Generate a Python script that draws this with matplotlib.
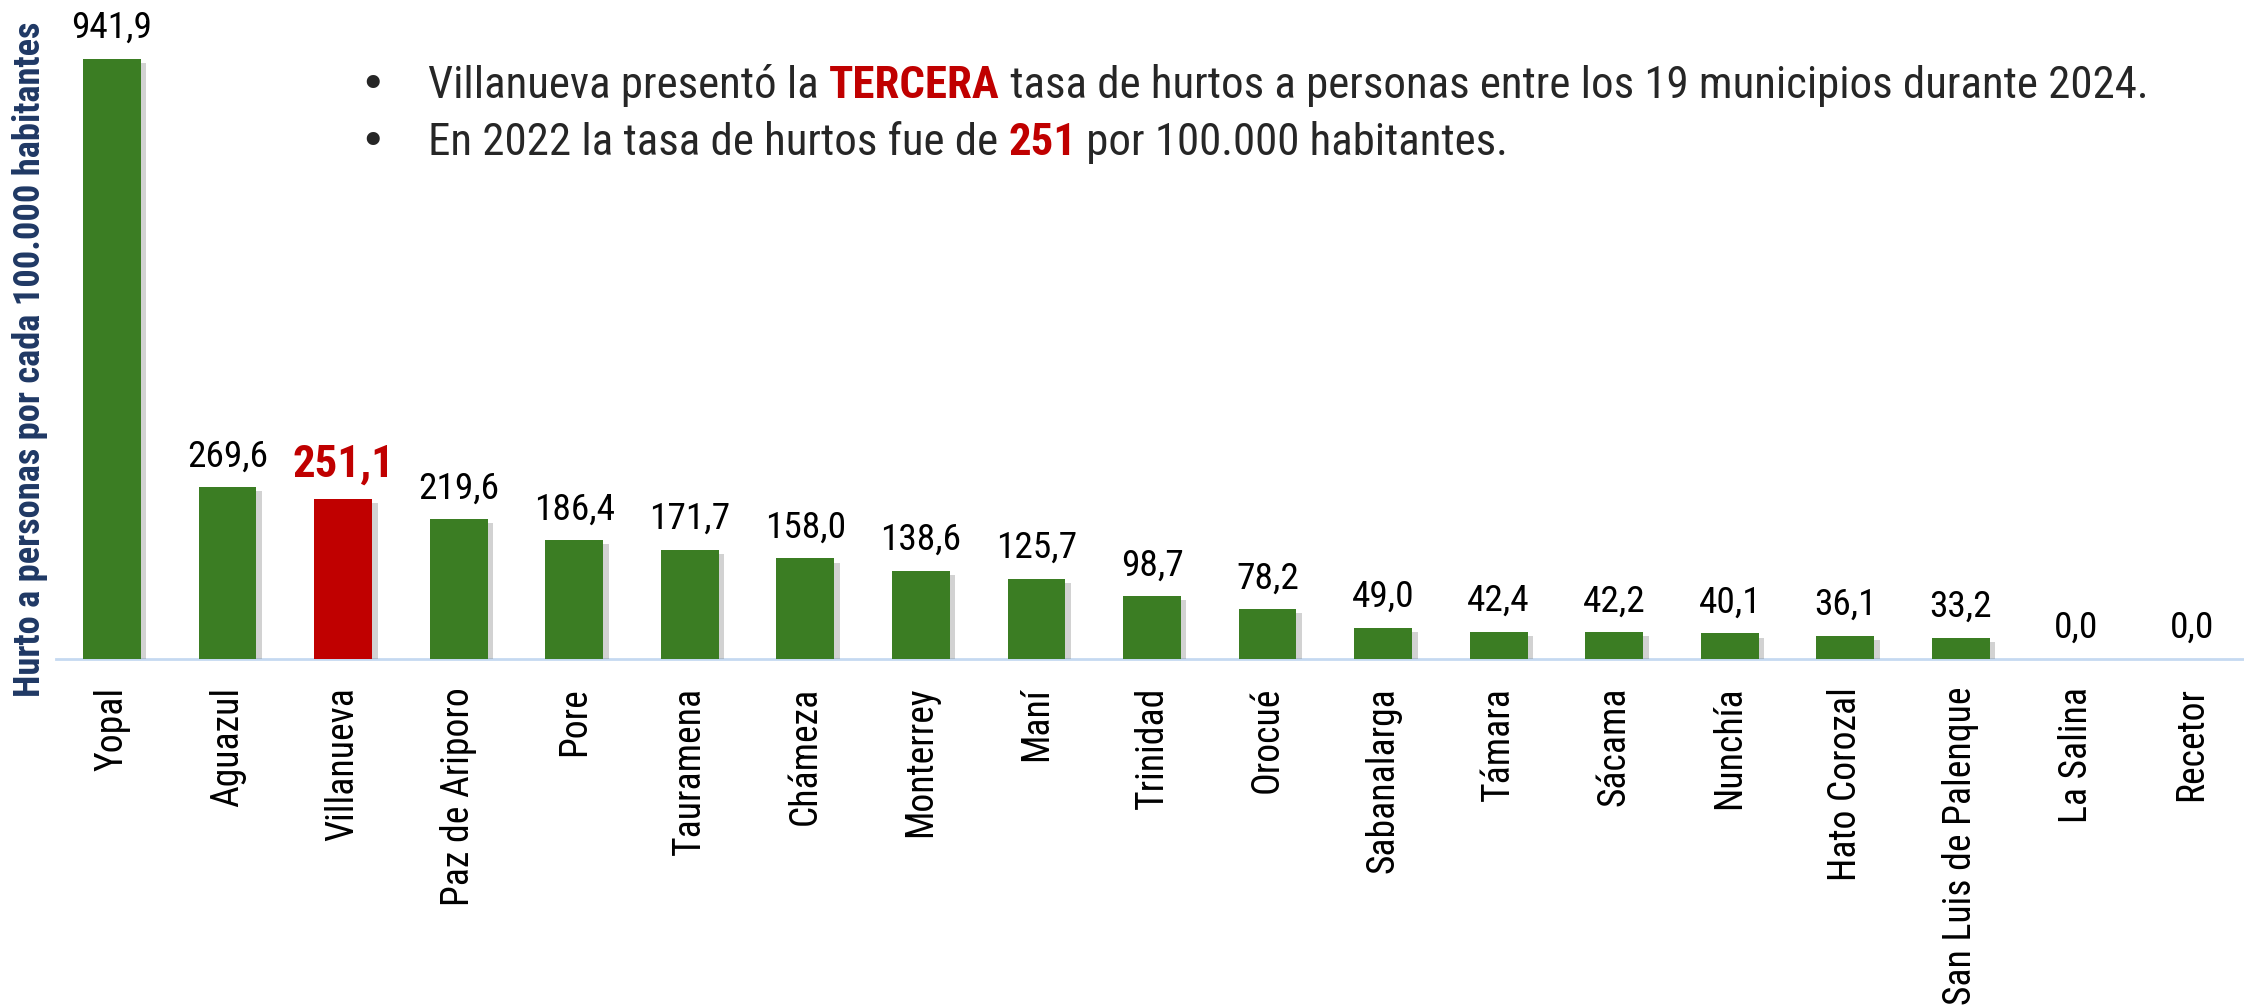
import matplotlib
matplotlib.use('Agg')
import matplotlib.pyplot as plt
import matplotlib.patheffects as pe

municipios = ['Yopal', 'Aguazul', 'Villanueva', 'Paz de Ariporo', 'Pore', 'Tauramena',
              'Chámeza', 'Monterrey', 'Maní', 'Trinidad', 'Orocué', 'Sabanalarga',
              'Támara', 'Sácama', 'Nunchía', 'Hato Corozal', 'San Luis de Palenque',
              'La Salina', 'Recetor']
tasas = [941.9, 269.6, 251.1, 219.6, 186.4, 171.7, 158.0, 138.6, 125.7, 98.7, 78.2,
         49.0, 42.4, 42.2, 40.1, 36.1, 33.2, 0.0, 0.0]
destacado = 'Villanueva'

bullet1 = [('Villanueva presentó la ', 'normal', '#262626'), ('TERCERA', 'bold', '#C00000'),
           (' tasa de hurtos a personas entre los 19 municipios durante 2024.', 'normal', '#262626')]
bullet2 = [('En 2022 la tasa de hurtos fue de ', 'normal', '#262626'), ('251', 'bold', '#C00000'),
           (' por 100.000 habitantes.', 'normal', '#262626')]
ylabel = 'Hurto a personas por cada 100.000 habitantes'

plt.rcParams['font.family'] = ['Roboto Condensed', 'DejaVu Sans']

W, H = 2244, 1005
fig = plt.figure(figsize=(W / 100, H / 100), dpi=100)
renderer = fig.canvas.get_renderer()


def ancho(txt, weight, size):
    # width of txt incl. trailing spaces (sentinel trick)
    t1 = fig.text(0, 0, txt + '.', fontsize=size, fontweight=weight)
    t2 = fig.text(0, 0, '.', fontsize=size, fontweight=weight)
    w = t1.get_window_extent(renderer).width - t2.get_window_extent(renderer).width
    t1.remove()
    t2.remove()
    return w


def ajustar(partes, objetivo, base=30):
    w = sum(ancho(t, wt, base) for t, wt, _ in partes)
    return base * objetivo / w


# axes: left 56px, baseline at 659px, top at 0
ax = fig.add_axes([56 / W, 1 - 659 / H, 1 - 56 / W, 659 / H])

x = list(range(len(municipios)))
colores = ['#C00000' if m == destacado else '#3B7D23' for m in municipios]
bars = ax.bar(x, tasas, width=0.5, color=colores, zorder=3)
for b in bars:
    b.set_path_effects([pe.SimplePatchShadow(offset=(4, -3), shadow_rgbFace='#7F7F7F', alpha=0.35),
                        pe.Normal()])

ax.set_xlim(-0.485, 18.45)
ax.set_ylim(0, 1034.5)

size_val = ajustar([('941,9', 'normal', '')], 81)
size_dest = ajustar([('251,1', 'bold', '')], 102)
for i, v in enumerate(tasas):
    etiqueta = f'{v:.1f}'.replace('.', ',')
    if municipios[i] == destacado:
        ax.annotate(etiqueta, (i, v), xytext=(0, 16), textcoords='offset points',
                    ha='center', va='baseline', fontsize=size_dest, fontweight='bold', color='#C00000')
    else:
        ax.annotate(etiqueta, (i, v), xytext=(0, 15), textcoords='offset points',
                    ha='center', va='baseline', fontsize=size_val, color='black')

size_tick = ajustar([('San Luis de Palenque', 'normal', '')], 318)
ax.set_xticks(x)
ax.set_xticklabels(municipios, rotation=90, fontsize=size_tick, color='black')
ax.tick_params(axis='x', length=0, pad=20)
ax.set_yticks([])
for s in ['top', 'right', 'left']:
    ax.spines[s].set_visible(False)
ax.spines['bottom'].set_color('#C5D9F1')
ax.spines['bottom'].set_linewidth(2)

size_ylab = ajustar([(ylabel, 'bold', '')], 676)
fig.text(30 / W, 1 - 359 / H, ylabel, rotation=90, ha='center', va='center',
         fontsize=size_ylab, fontweight='bold', color='#1F3864')

size_bul = ajustar(bullet1, 1719)


def linea(partes, y_px, size):
    fig.text(373 / W, 1 - y_px / H, '•', fontsize=size, color='#262626', ha='center',
             va='baseline', family='DejaVu Sans')
    xp = 428
    for txt, weight, col in partes:
        fig.text(xp / W, 1 - y_px / H, txt, fontsize=size, fontweight=weight, color=col,
                 ha='left', va='baseline')
        xp += ancho(txt, weight, size)


linea(bullet1, 98, size_bul)
linea(bullet2, 155, size_bul)

fig.savefig('out.png', dpi=100)
